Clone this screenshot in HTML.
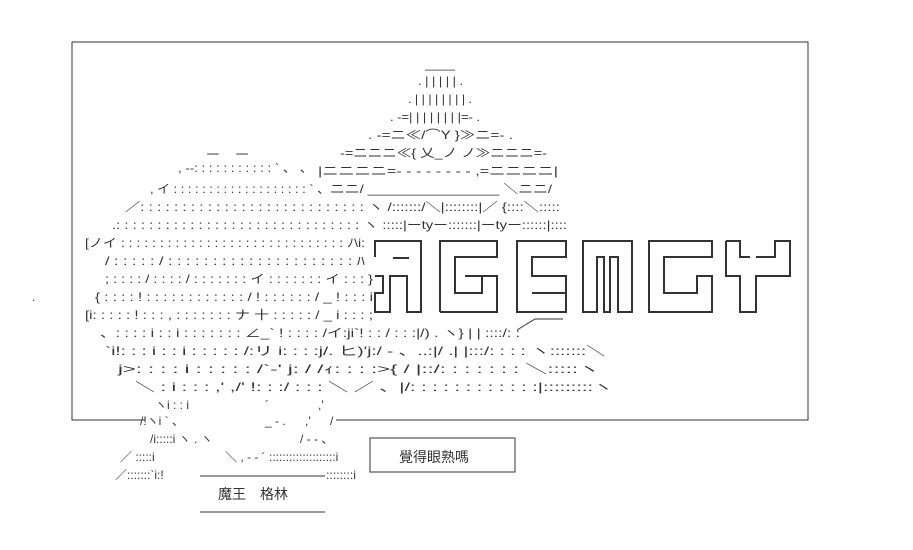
<!DOCTYPE html>
<html><head><meta charset="utf-8"><style>
html,body{margin:0;padding:0;background:#fff;width:913px;height:550px;overflow:hidden}
svg{display:block}
text{font-family:"Liberation Sans","Noto Sans CJK JP",sans-serif;font-size:12px;fill:#333}
</style></head><body>
<svg width="913" height="550" viewBox="0 0 913 550" xmlns="http://www.w3.org/2000/svg">
<g stroke="#333" stroke-width="1" fill="none">
<path d="M72 42H808V420H336M145 420H72V42"/>
<path d="M200 476H325M200 512H325"/>
<rect x="370" y="438" width="145" height="34"/>
<path d="M517 330L535 319H563"/>
</g>
<g stroke="#333" stroke-width="2" fill="none" stroke-linejoin="miter">
<path d="M375 257V241H421V312H407V276H390V312H375V293H383V276H375"/>
<path d="M393 258H409"/>
<path d="M440 312V241H497V257H455V293H482V276H465V276M440 312H497V276H467"/>
<path d="M517 312V241H566V257H532V276H566V293H532V293H566V312Z"/>
<path d="M583 312V241H632V312H618V257H610V312H604V257H597V312Z"/>
<path d="M649 312V241H712V257H664V293H697V276H712V312Z"/>
<path d="M726 241H740V257H750V257M726 241V276H740V312H756V276H790V241H775V257H756"/>
</g>
<text x="425" y="68" textLength="30" lengthAdjust="spacingAndGlyphs">_____</text>
<text x="418" y="85" textLength="45" lengthAdjust="spacingAndGlyphs">. | | | | | .</text>
<text x="408" y="103" textLength="64" lengthAdjust="spacingAndGlyphs">. | | | | | | | | .</text>
<text x="390" y="121" textLength="90" lengthAdjust="spacingAndGlyphs">. -=| | | | | | | |=- .</text>
<text x="368" y="139" textLength="145" lengthAdjust="spacingAndGlyphs">. -=ニ≪/⌒Y }≫ニ=- .</text>
<text x="340" y="157" textLength="207" lengthAdjust="spacingAndGlyphs">-=ニニニ≪{ 乂_ノ ノ≫ニニニ=-</text>
<text x="205" y="157" textLength="45" lengthAdjust="spacingAndGlyphs">-        -</text>
<text x="178" y="172" textLength="135" lengthAdjust="spacingAndGlyphs">, ‐-: : : : : : : : : : : ` 、 、</text>
<text x="318" y="175" textLength="240" lengthAdjust="spacingAndGlyphs">|ニニニニ=- - - - - - - - ,=ニニニニ|</text>
<text x="150" y="193" textLength="180" lengthAdjust="spacingAndGlyphs">, イ : : : : : : : : : : : : : : : : : : : ` 、</text>
<text x="330" y="193" textLength="222" lengthAdjust="spacingAndGlyphs">ニニ/ ________________ ＼ニニ/</text>
<text x="125" y="211" textLength="435" lengthAdjust="spacingAndGlyphs">／: : : : : : : : : : : : : : : : : : : : : : : : : : : ヽ  /:::::::/＼|::::::::|／ {::::＼:::::</text>
<text x="112" y="229" textLength="455" lengthAdjust="spacingAndGlyphs">.: : : : : : : : : : : : : : : : : : : : : : : : : : : : : : ヽ  :::::|ーtyー:::::::|ーtyー::::::|::::</text>
<text x="85" y="247" textLength="280" lengthAdjust="spacingAndGlyphs">[ノイ : : : : : : : : : : : : : : : : : : : : : : : : : : : : : ﾉ\i:</text>
<text x="105" y="265" textLength="260" lengthAdjust="spacingAndGlyphs">/ : : : : : / : : : : : : : : : : : : : : : : : : : : : ﾊ</text>
<text x="105" y="283" textLength="268" lengthAdjust="spacingAndGlyphs">; : : : : / : : : : / : : : : : : : イ : : : : : : : イ : : : }</text>
<text x="32" y="301">.</text>
<text x="95" y="301" textLength="278" lengthAdjust="spacingAndGlyphs">{ : : : : ! : : : : : : : : : : : : / ! : : : : : : / _ ! : : : i</text>
<text x="85" y="319" textLength="288" lengthAdjust="spacingAndGlyphs">[i: : : : : ! : : : , : : : : : : : ナ 十 : : : : : / _ i : : : ;</text>
<text x="100" y="337" textLength="420" lengthAdjust="spacingAndGlyphs">、: : : : i : : i : : : : : : : ∠_` ! : : : : /イ:ji`! : : / : : :|/) . ヽ} | | ::::/: :</text>
<text x="105" y="355" textLength="500" lengthAdjust="spacingAndGlyphs">`i!: : : i : : i : : : : : /:リ  i: : : :j/. ヒ)'j:/ ‐ 、..:|/       .|  |:::/: : : :  ヽ:::::::＼</text>
<text x="118" y="373" textLength="482" lengthAdjust="spacingAndGlyphs">j>: : : : i : : : : : /`‐'     j: /      /ｨ: : : :>{        /  |::/: : : : : : :  ＼:::::ヽ</text>
<text x="135" y="391" textLength="478" lengthAdjust="spacingAndGlyphs">＼ : i : : : ,'     ,/'        !: : :/ : : :  ＼    ／ 、|/: : : : : : : : : : : :|:::::::::ヽ</text>
<text x="155" y="409">ヽi : : i</text>
<text x="265" y="409">´</text><text x="318" y="409">,'</text>
<text x="140" y="425">/!ヽi  ` 、</text>
<text x="265" y="425">_ - .</text><text x="305" y="425">,'</text><text x="330" y="425">/</text>
<text x="150" y="443">/i:::::i    ヽ .   ヽ</text>
<text x="300" y="443">/ ‐ ‐ 、</text>
<text x="120" y="461">／ :::::i</text>
<text x="225" y="461">＼    , ‐ - ´ ::::::::::::::::::::i</text>
<text x="115" y="479">／:::::::`i:!</text>
<text x="326" y="479" textLength="30" lengthAdjust="spacingAndGlyphs">::::::::i</text>
<text x="399" y="462" style="font-size:14px">覺得眼熟嗎</text>
<text x="218" y="499" style="font-size:14px">魔王　格林</text>
</svg>
</body></html>
